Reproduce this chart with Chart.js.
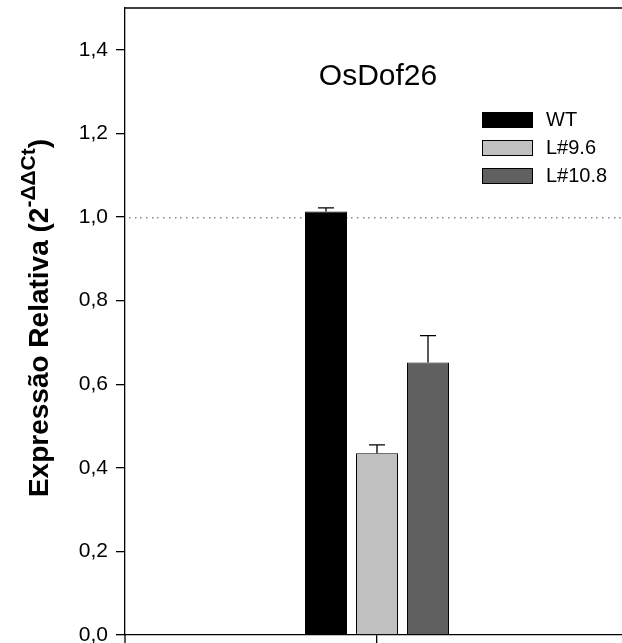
<!DOCTYPE html>
<html>
<head>
<meta charset="utf-8">
<script src="https://cdn.jsdelivr.net/npm/chart.js@4.4.1/dist/chart.umd.min.js"></script>
<style>
    html, body { margin: 0; padding: 0; background: #fff; overflow: hidden; }
    #wrap { width: 629px; height: 643px; position: relative; }
</style>
</head>
<body>
<div id="wrap"><canvas id="chart"></canvas></div>
<script>
// Dados do gráfico
const categories = ['OsDof26'];
const seriesLabels = ['WT', 'L#9.6', 'L#10.8'];
const seriesValues = [[1.013], [0.435], [0.652]];
const seriesErrors = [[0.009], [0.020], [0.064]];
const seriesColors = ['#000000', '#c0c0c0', '#606060'];
const yTicks = [0, 0.2, 0.4, 0.6, 0.8, 1.0, 1.2, 1.4];
const refLine = [1.0];

const FONT = '"Liberation Sans", Arial, sans-serif';

// Linha pontilhada, barras de erro, legenda e textos
const extrasPlugin = {
    id: 'extras',
    beforeDatasetsDraw(chart) {
        const { ctx, chartArea, scales } = chart;
        ctx.save();
        ctx.fillStyle = '#8a8a8a';
        refLine.forEach(v => {
            const y = Math.round(scales.y.getPixelForValue(v));
            for (let x = chartArea.left + 4; x < chartArea.right; x += 5.7) {
                ctx.fillRect(Math.round(x), y, 1.5, 1.5);
            }
        });
        ctx.restore();
    },
    afterDatasetsDraw(chart) {
        const { ctx, chartArea, scales } = chart;
        ctx.save();
        ctx.strokeStyle = '#000';
        ctx.lineWidth = 1.3;
        chart.data.datasets.forEach((ds, i) => {
            const meta = chart.getDatasetMeta(i);
            meta.data.forEach((bar, j) => {
                const top = scales.y.getPixelForValue(ds.data[j] + seriesErrors[i][j]);
                ctx.beginPath();
                ctx.moveTo(bar.x, bar.y);
                ctx.lineTo(bar.x, top);
                ctx.moveTo(bar.x - 8, top);
                ctx.lineTo(bar.x + 8, top);
                ctx.stroke();
            });
        });

        // moldura: linha de cima e prolongamento do eixo
        ctx.beginPath();
        ctx.moveTo(chartArea.left, chartArea.top);
        ctx.lineTo(chart.width, chartArea.top);
        ctx.moveTo(chartArea.left, chartArea.bottom);
        ctx.lineTo(chartArea.left, chart.height);
        ctx.stroke();

        // título
        ctx.fillStyle = '#000';
        ctx.font = '30px ' + FONT;
        ctx.textAlign = 'center';
        ctx.textBaseline = 'middle';
        ctx.fillText(categories[0], 378, 77);

        // legenda
        ctx.font = '20px ' + FONT;
        ctx.textAlign = 'left';
        chart.data.datasets.forEach((ds, i) => {
            const y = 112 + i * 28;
            ctx.fillStyle = ds.backgroundColor;
            ctx.fillRect(482, y, 51, 16);
            ctx.strokeStyle = '#000';
            ctx.lineWidth = 1;
            ctx.strokeRect(482.5, y + 0.5, 50, 15);
            ctx.fillStyle = '#000';
            ctx.fillText(ds.label, 546, y + 8);
        });

        // título do eixo y com sobrescrito
        const main = 'Expressão Relativa (2';
        const sup = '-ΔΔCt';
        const close = ')';
        ctx.save();
        ctx.translate(48, 318);
        ctx.rotate(-Math.PI / 2);
        ctx.font = 'bold 28px ' + FONT;
        const wMain = ctx.measureText(main).width;
        const wClose = ctx.measureText(close).width;
        ctx.font = 'bold 21px ' + FONT;
        const wSup = ctx.measureText(sup).width;
        let x = -(wMain + wSup + wClose) / 2;
        ctx.textBaseline = 'alphabetic';
        ctx.font = 'bold 28px ' + FONT;
        ctx.fillText(main, x, 0);
        x += wMain;
        ctx.font = 'bold 21px ' + FONT;
        ctx.fillText(sup, x, -13);
        x += wSup;
        ctx.font = 'bold 28px ' + FONT;
        ctx.fillText(close, x, 0);
        ctx.restore();

        ctx.restore();
    }
};

const datasets = seriesLabels.map((label, i) => ({
    label: label,
    data: seriesValues[i],
    backgroundColor: seriesColors[i],
    borderColor: '#000',
    borderWidth: 1,
    barPercentage: 0.824,
    categoryPercentage: 0.3036
}));

new Chart(document.getElementById('chart'), {
    type: 'bar',
    data: { labels: categories, datasets: datasets },
    plugins: [extrasPlugin],
    options: {
        responsive: true,
        maintainAspectRatio: false,
        animation: false,
        layout: { padding: { top: 8, left: 0, right: 0, bottom: 0 } },
        plugins: {
            legend: { display: false },
            tooltip: { enabled: false }
        },
        scales: {
            x: {
                offset: true,
                border: { display: true, color: '#000', width: 1.3 },
                grid: { display: true, offset: false, drawOnChartArea: false, drawTicks: true, tickLength: 8, color: '#000', lineWidth: 1.3 },
                ticks: { display: false },
                afterFit(scale) {
                    scale.height = 8;
                    scale.paddingLeft = 0;
                    scale.paddingRight = 0;
                }
            },
            y: {
                min: 0,
                max: 1.5,
                border: { display: true, color: '#000', width: 1.3 },
                grid: { display: true, drawOnChartArea: false, drawTicks: true, tickLength: 9, color: '#000', lineWidth: 1.3 },
                afterBuildTicks(scale) {
                    scale.ticks = yTicks.map(v => ({ value: v }));
                },
                ticks: {
                    padding: 8,
                    color: '#000',
                    font: { family: FONT, size: 21 },
                    callback: v => v.toFixed(1).replace('.', ',')
                },
                afterFit(scale) {
                    scale.width = 125;
                    scale.paddingTop = 0;
                    scale.paddingBottom = 0;
                }
            }
        }
    }
});
</script>
</body>
</html>
